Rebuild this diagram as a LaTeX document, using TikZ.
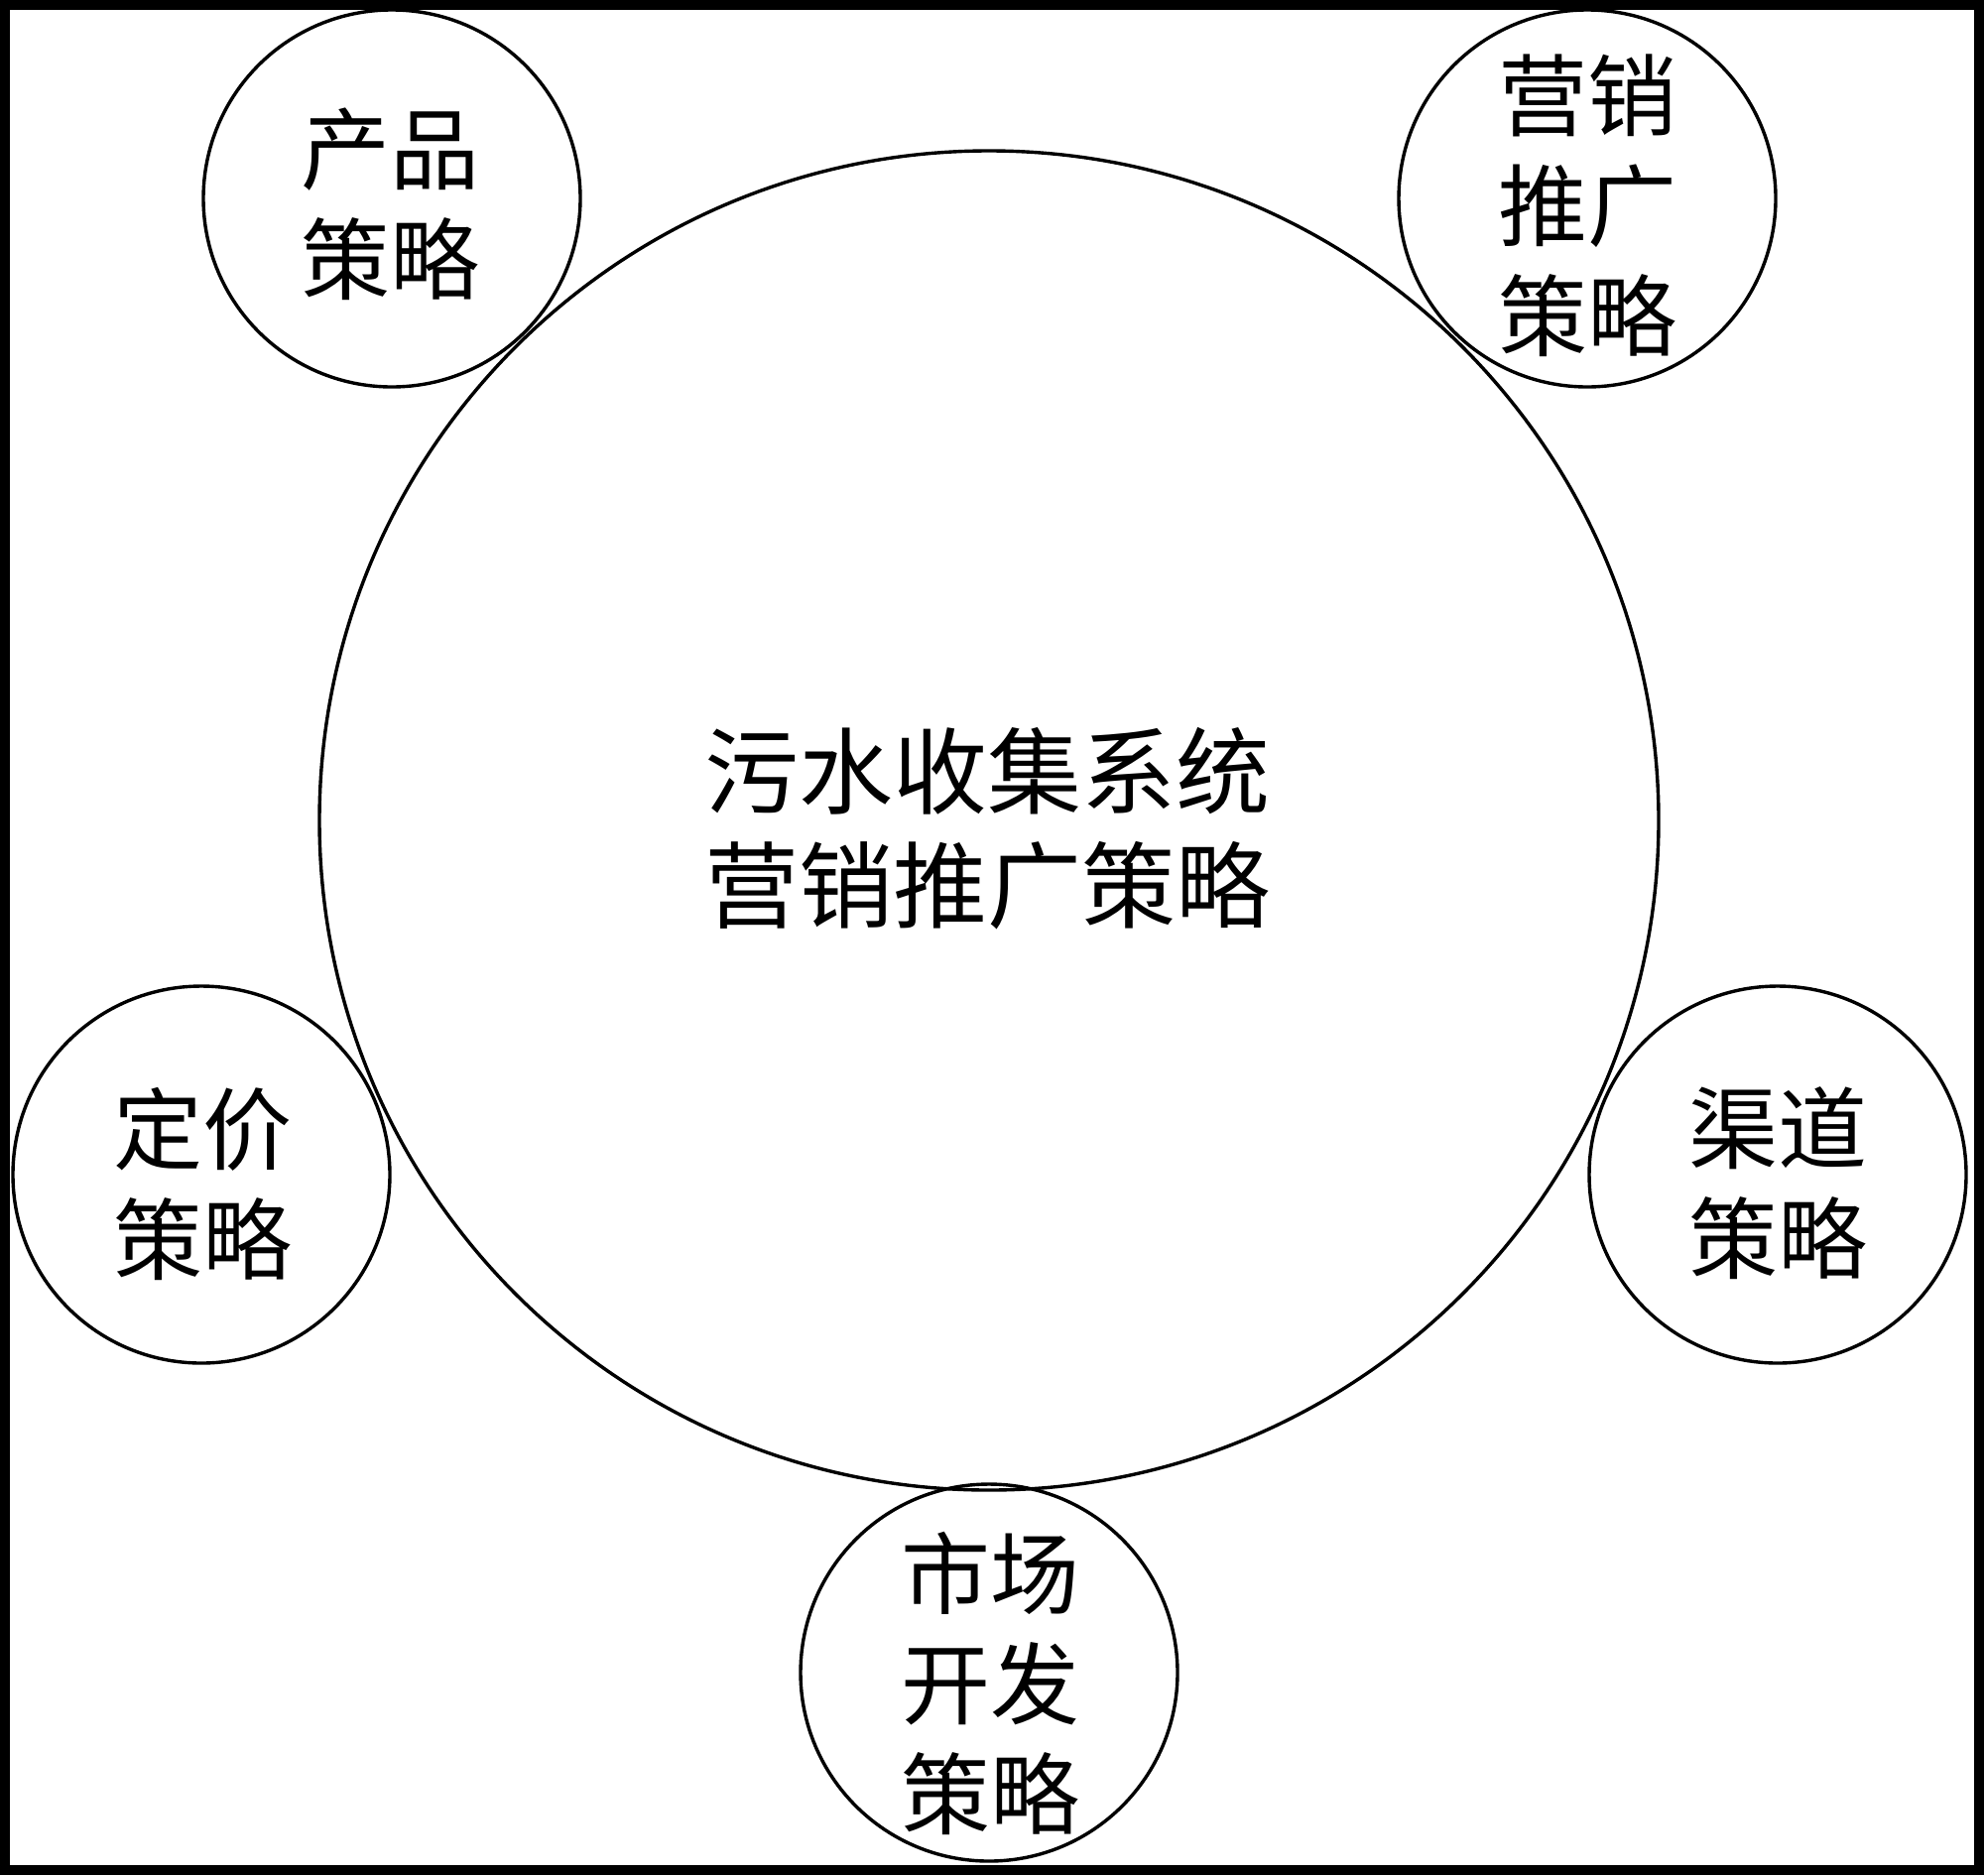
\documentclass[tikz,border=0pt]{standalone}
\usepackage{fontspec}
\setmainfont{Noto Sans CJK SC}
\begin{document}
\begin{tikzpicture}[x=0.5pt,y=-0.5pt,
  ring/.style={draw,circle,line width=1.7pt,inner sep=0pt,minimum size=#1},
  lbl/.style={align=center,inner sep=0pt,font=\fontsize{45}{55.5}\selectfont},
  mainlbl/.style={align=center,inner sep=0pt,font=\fontsize{47.5}{57.5}\selectfont},
]
\useasboundingbox (0,0) rectangle (2000,1890);
\draw[line width=5pt] (5,5) rectangle (1995,1885);

\node[ring=675pt] (main) at (997,827) {};
\node[ring=190pt] (c1) at (395,200) {};
\node[ring=190pt] (c2) at (1600,200) {};
\node[ring=190pt] (c3) at (203,1184) {};
\node[ring=190pt] (c4) at (1792,1184) {};
\node[ring=190pt] (c5) at (997,1686) {};

\node[mainlbl] (t0) at (995,835) {污水收集系统\\营销推广策略};
\node[lbl] (t1) at (393,206) {产品\\策略};
\node[lbl] (t2) at (1600,207) {营销\\推广\\策略};
\node[lbl] (t3) at (204,1193) {定价\\策略};
\node[lbl] (t4) at (1792,1193) {渠道\\策略};
\node[lbl] (t5) at (998,1697) {市场\\开发\\策略};
\end{tikzpicture}
\end{document}
